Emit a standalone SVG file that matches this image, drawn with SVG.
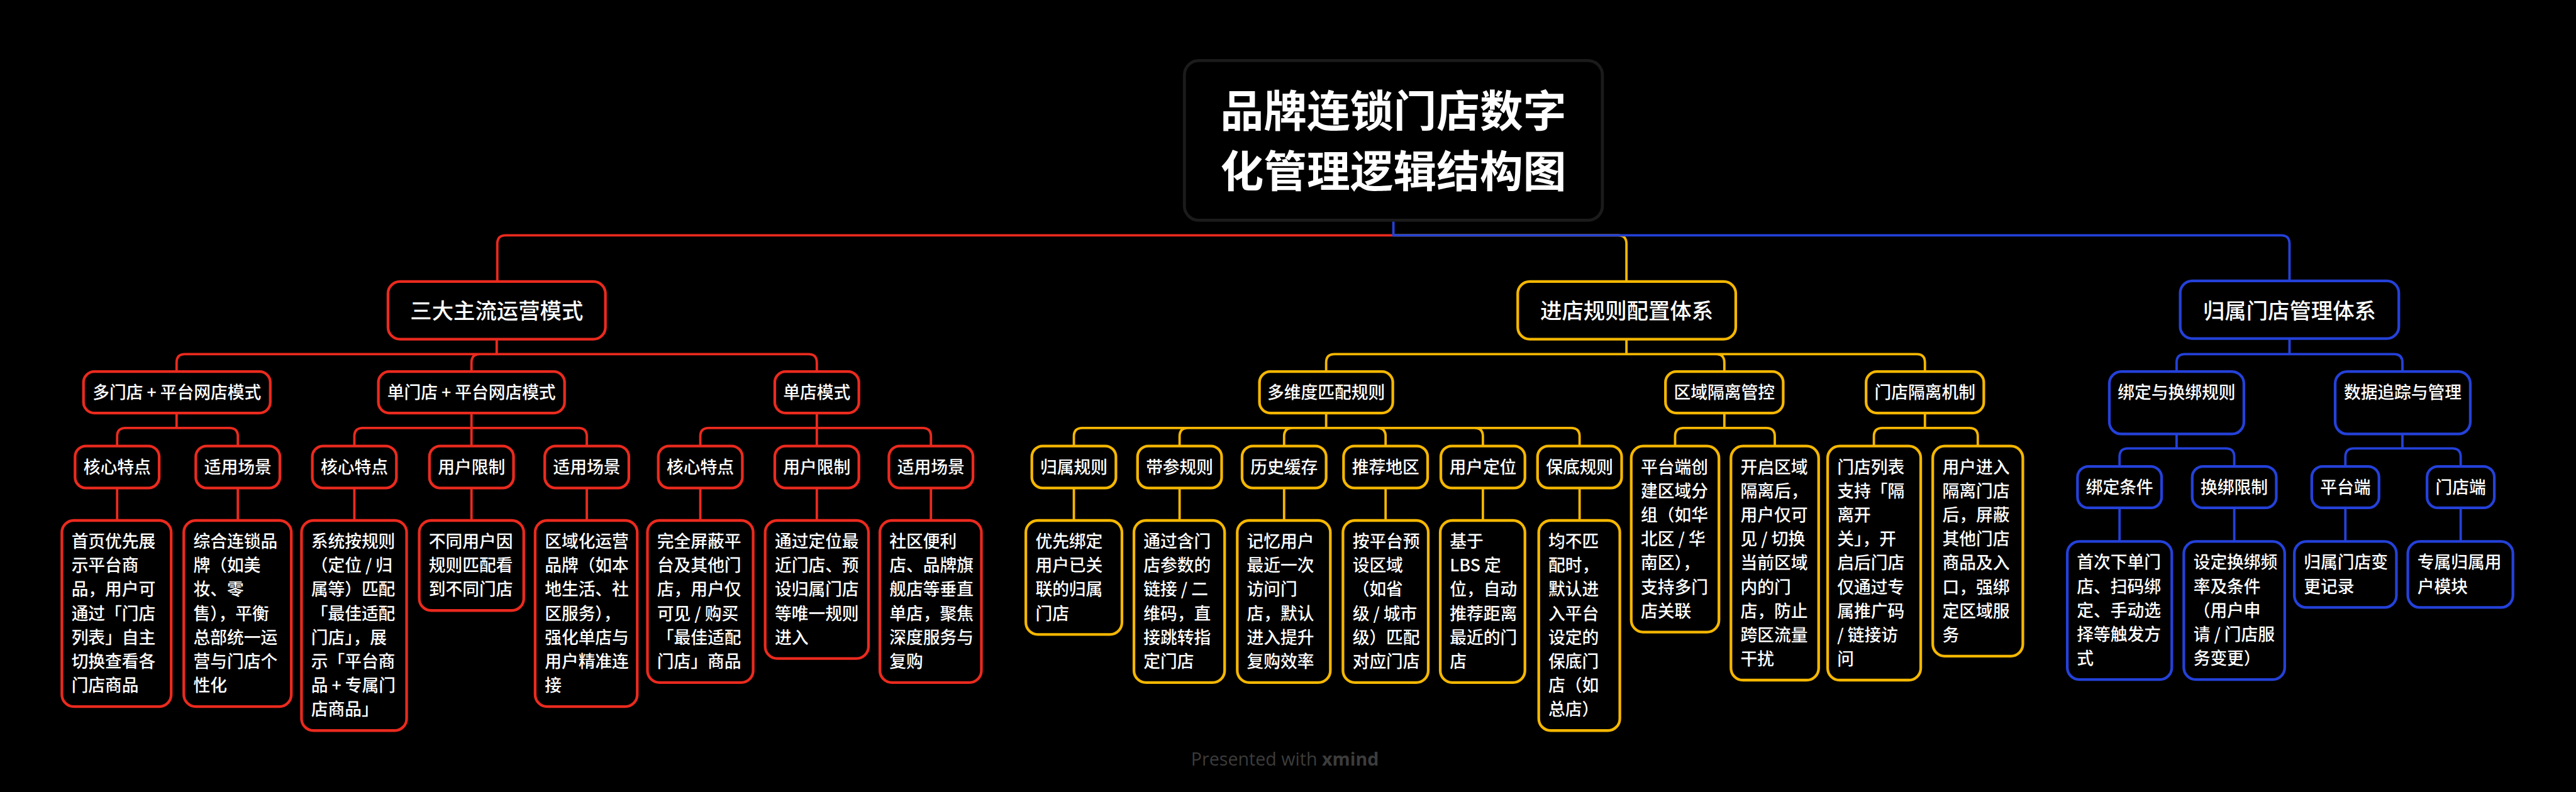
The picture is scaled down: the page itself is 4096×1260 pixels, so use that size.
<svg xmlns="http://www.w3.org/2000/svg" width="4096" height="1260" viewBox="0 0 4096 1260">
<style>
text{font-family:"Noto Sans CJK SC","Noto Sans",sans-serif;fill:#fff;font-weight:500}
.nd{fill:#000;stroke-width:4.5}
.R{stroke:#EB2A1E}.Y{stroke:#F5B700}.B{stroke:#2441D9}
.cn path{fill:none;stroke-width:4}
.t1{font-size:72px;font-weight:700;text-anchor:middle}
.t2{font-size:36px;text-anchor:middle}
.t3{font-size:28px;text-anchor:middle}
.lf{font-size:28px}
.ft{font-family:"Open Sans","Noto Sans",sans-serif;font-size:30px;fill:#3c3c3c;font-weight:400}
</style>
<rect width="4096" height="1260" fill="#000"/>
<g transform="scale(0.955)">
<g id="connectors" class="cn">
<g class="R">
<path d="M2320,392 H842 Q828,392 828,406 V469"/>
<path d="M827,565 V590 M827,590 H308 Q294,590 294,604 V619 M827,590 H799 Q785,590 785,604 V619 M827,590 H1346 Q1360,590 1360,604 V619"/>
<path d="M294,688 V713 H209 Q195,713 195,727 V743 M294,713 H382 Q396,713 396,727 V743"/>
<path d="M785,688 V743 M785,713 H604 Q590,713 590,727 V743 M785,713 H963 Q977,713 977,727 V743"/>
<path d="M1360,688 V743 M1360,713 H1180 Q1166,713 1166,727 V743 M1360,713 H1536 Q1550,713 1550,727 V743"/>
<path d="M195,813 V867 M396,813 V867 M590,813 V867 M785,813 V867 M977,813 V867 M1166,813 V867 M1360,813 V867 M1550,813 V867"/>
</g>
<g class="Y">
<path d="M2320,392 H2694 Q2708,392 2708,406 V469"/>
<path d="M2708,565 V590 M2708,590 H2222 Q2208,590 2208,604 V619 M2708,590 H2857 Q2871,590 2871,604 V619 M2708,590 H3191 Q3205,590 3205,604 V619"/>
<path d="M2208,688 V713 M2208,713 H1802 Q1788,713 1788,727 V743 M2208,713 H1978 Q1964,713 1964,727 V743 M2208,713 H2152 Q2138,713 2138,727 V743 M2208,713 H2293 Q2307,713 2307,727 V743 M2208,713 H2455 Q2469,713 2469,727 V743 M2208,713 H2616 Q2630,713 2630,727 V743"/>
<path d="M1788,813 V867 M1964,813 V867 M2138,813 V867 M2307,813 V867 M2469,813 V867 M2630,813 V867"/>
<path d="M2871,688 V713 M2871,713 H2803 Q2789,713 2789,727 V743 M2871,713 H2941 Q2955,713 2955,727 V743"/>
<path d="M3205,688 V713 M3205,713 H3134 Q3120,713 3120,727 V743 M3205,713 H3279 Q3293,713 3293,727 V743"/>
</g>
<g class="B">
<path d="M2320,367 V392 H3798 Q3812,392 3812,406 V468"/>
<path d="M3812,564 V590 M3812,590 H3638 Q3624,590 3624,604 V619 M3812,590 H3986 Q4000,590 4000,604 V619"/>
<path d="M3624,723 V747 M3624,747 H3543 Q3529,747 3529,761 V777 M3624,747 H3706 Q3720,747 3720,761 V777"/>
<path d="M4000,723 V747 M4000,747 H3919 Q3905,747 3905,761 V777 M4000,747 H4083 Q4097,747 4097,761 V777"/>
<path d="M3529,846 V902 M3720,846 V902 M3905,846 V902 M4097,846 V902"/>
</g>
</g>

<g id="title">
<rect x="1972" y="101" width="696" height="266" rx="24" fill="#000" stroke="#1b1b1b" stroke-width="5"/>
<text class="t1" x="2320" y="212">品牌连锁门店数字</text>
<text class="t1" x="2320" y="312">化管理逻辑结构图</text>
</g>

<!-- Red branch -->
<g id="n-modes"><rect class="nd R" x="646" y="469" width="362" height="96" rx="20"/><text class="t2" x="827" y="531">三大主流运营模式</text></g>
<g id="n-multi"><rect class="nd R" x="139" y="619" width="311" height="69" rx="18"/><text class="t3" x="294.5" y="664">多门店 + 平台网店模式</text></g>
<g id="n-single-plat"><rect class="nd R" x="630" y="619" width="310" height="69" rx="18"/><text class="t3" x="785" y="664">单门店 + 平台网店模式</text></g>
<g id="n-single"><rect class="nd R" x="1290" y="619" width="140" height="69" rx="18"/><text class="t3" x="1360" y="664">单店模式</text></g>

<g id="r-a1"><rect class="nd R" x="125" y="743" width="140" height="70" rx="18"/><text class="t3" x="195" y="788">核心特点</text></g>
<g id="r-a2"><rect class="nd R" x="326" y="743" width="140" height="70" rx="18"/><text class="t3" x="396" y="788">适用场景</text></g>
<g id="r-b1"><rect class="nd R" x="520" y="743" width="140" height="70" rx="18"/><text class="t3" x="590" y="788">核心特点</text></g>
<g id="r-b2"><rect class="nd R" x="715" y="743" width="140" height="70" rx="18"/><text class="t3" x="785" y="788">用户限制</text></g>
<g id="r-b3"><rect class="nd R" x="907" y="743" width="140" height="70" rx="18"/><text class="t3" x="977" y="788">适用场景</text></g>
<g id="r-c1"><rect class="nd R" x="1096" y="743" width="140" height="70" rx="18"/><text class="t3" x="1166" y="788">核心特点</text></g>
<g id="r-c2"><rect class="nd R" x="1290" y="743" width="140" height="70" rx="18"/><text class="t3" x="1360" y="788">用户限制</text></g>
<g id="r-c3"><rect class="nd R" x="1480" y="743" width="140" height="70" rx="18"/><text class="t3" x="1550" y="788">适用场景</text></g>

<g id="r-l1"><rect class="nd R" x="103" y="867" width="182" height="310" rx="20"/><text class="lf" y="912"><tspan x="119">首页优先展</tspan><tspan x="119" dy="40">示平台商</tspan><tspan x="119" dy="40">品，用户可</tspan><tspan x="119" dy="40">通过「门店</tspan><tspan x="119" dy="40">列表」自主</tspan><tspan x="119" dy="40">切换查看各</tspan><tspan x="119" dy="40">门店商品</tspan></text></g>
<g id="r-l2"><rect class="nd R" x="306" y="867" width="179" height="310" rx="20"/><text class="lf" y="912"><tspan x="322">综合连锁品</tspan><tspan x="322" dy="40">牌（如美</tspan><tspan x="322" dy="40">妆、零</tspan><tspan x="322" dy="40">售），平衡</tspan><tspan x="322" dy="40">总部统一运</tspan><tspan x="322" dy="40">营与门店个</tspan><tspan x="322" dy="40">性化</tspan></text></g>
<g id="r-l3"><rect class="nd R" x="502" y="867" width="175" height="350" rx="20"/><text class="lf" y="912"><tspan x="518">系统按规则</tspan><tspan x="518" dy="40">（定位 / 归</tspan><tspan x="518" dy="40">属等）匹配</tspan><tspan x="518" dy="40">「最佳适配</tspan><tspan x="518" dy="40">门店」，展</tspan><tspan x="518" dy="40">示「平台商</tspan><tspan x="518" dy="40">品 + 专属门</tspan><tspan x="518" dy="40">店商品」</tspan></text></g>
<g id="r-l4"><rect class="nd R" x="698" y="867" width="174" height="150" rx="20"/><text class="lf" y="912"><tspan x="714">不同用户因</tspan><tspan x="714" dy="40">规则匹配看</tspan><tspan x="714" dy="40">到不同门店</tspan></text></g>
<g id="r-l5"><rect class="nd R" x="891" y="867" width="170" height="310" rx="20"/><text class="lf" y="912"><tspan x="907">区域化运营</tspan><tspan x="907" dy="40">品牌（如本</tspan><tspan x="907" dy="40">地生活、社</tspan><tspan x="907" dy="40">区服务），</tspan><tspan x="907" dy="40">强化单店与</tspan><tspan x="907" dy="40">用户精准连</tspan><tspan x="907" dy="40">接</tspan></text></g>
<g id="r-l6"><rect class="nd R" x="1078" y="867" width="176" height="270" rx="20"/><text class="lf" y="912"><tspan x="1094">完全屏蔽平</tspan><tspan x="1094" dy="40">台及其他门</tspan><tspan x="1094" dy="40">店，用户仅</tspan><tspan x="1094" dy="40">可见 / 购买</tspan><tspan x="1094" dy="40">「最佳适配</tspan><tspan x="1094" dy="40">门店」商品</tspan></text></g>
<g id="r-l7"><rect class="nd R" x="1274" y="867" width="172" height="230" rx="20"/><text class="lf" y="912"><tspan x="1290">通过定位最</tspan><tspan x="1290" dy="40">近门店、预</tspan><tspan x="1290" dy="40">设归属门店</tspan><tspan x="1290" dy="40">等唯一规则</tspan><tspan x="1290" dy="40">进入</tspan></text></g>
<g id="r-l8"><rect class="nd R" x="1465" y="867" width="169" height="270" rx="20"/><text class="lf" y="912"><tspan x="1481">社区便利</tspan><tspan x="1481" dy="40">店、品牌旗</tspan><tspan x="1481" dy="40">舰店等垂直</tspan><tspan x="1481" dy="40">单店，聚焦</tspan><tspan x="1481" dy="40">深度服务与</tspan><tspan x="1481" dy="40">复购</tspan></text></g>

<!-- Yellow branch -->
<g id="n-rules"><rect class="nd Y" x="2527" y="469" width="363" height="96" rx="20"/><text class="t2" x="2708.5" y="531">进店规则配置体系</text></g>
<g id="n-match"><rect class="nd Y" x="2097" y="619" width="222" height="69" rx="18"/><text class="t3" x="2208" y="664">多维度匹配规则</text></g>
<g id="n-region"><rect class="nd Y" x="2773" y="619" width="196" height="69" rx="18"/><text class="t3" x="2871" y="664">区域隔离管控</text></g>
<g id="n-iso"><rect class="nd Y" x="3107" y="619" width="196" height="69" rx="18"/><text class="t3" x="3205" y="664">门店隔离机制</text></g>

<g id="y-a1"><rect class="nd Y" x="1718" y="743" width="140" height="70" rx="18"/><text class="t3" x="1788" y="788">归属规则</text></g>
<g id="y-a2"><rect class="nd Y" x="1894" y="743" width="140" height="70" rx="18"/><text class="t3" x="1964" y="788">带参规则</text></g>
<g id="y-a3"><rect class="nd Y" x="2068" y="743" width="140" height="70" rx="18"/><text class="t3" x="2138" y="788">历史缓存</text></g>
<g id="y-a4"><rect class="nd Y" x="2237" y="743" width="140" height="70" rx="18"/><text class="t3" x="2307" y="788">推荐地区</text></g>
<g id="y-a5"><rect class="nd Y" x="2399" y="743" width="140" height="70" rx="18"/><text class="t3" x="2469" y="788">用户定位</text></g>
<g id="y-a6"><rect class="nd Y" x="2560" y="743" width="140" height="70" rx="18"/><text class="t3" x="2630" y="788">保底规则</text></g>

<g id="y-l1"><rect class="nd Y" x="1708" y="867" width="160" height="190" rx="20"/><text class="lf" y="912"><tspan x="1724">优先绑定</tspan><tspan x="1724" dy="40">用户已关</tspan><tspan x="1724" dy="40">联的归属</tspan><tspan x="1724" dy="40">门店</tspan></text></g>
<g id="y-l2"><rect class="nd Y" x="1888" y="867" width="151" height="270" rx="20"/><text class="lf" y="912"><tspan x="1904">通过含门</tspan><tspan x="1904" dy="40">店参数的</tspan><tspan x="1904" dy="40">链接 / 二</tspan><tspan x="1904" dy="40">维码，直</tspan><tspan x="1904" dy="40">接跳转指</tspan><tspan x="1904" dy="40">定门店</tspan></text></g>
<g id="y-l3"><rect class="nd Y" x="2060" y="867" width="155" height="270" rx="20"/><text class="lf" y="912"><tspan x="2076">记忆用户</tspan><tspan x="2076" dy="40">最近一次</tspan><tspan x="2076" dy="40">访问门</tspan><tspan x="2076" dy="40">店，默认</tspan><tspan x="2076" dy="40">进入提升</tspan><tspan x="2076" dy="40">复购效率</tspan></text></g>
<g id="y-l4"><rect class="nd Y" x="2236" y="867" width="142" height="270" rx="20"/><text class="lf" y="912"><tspan x="2252">按平台预</tspan><tspan x="2252" dy="40">设区域</tspan><tspan x="2252" dy="40">（如省</tspan><tspan x="2252" dy="40">级 / 城市</tspan><tspan x="2252" dy="40">级）匹配</tspan><tspan x="2252" dy="40">对应门店</tspan></text></g>
<g id="y-l5"><rect class="nd Y" x="2398" y="867" width="141" height="270" rx="20"/><text class="lf" y="912"><tspan x="2414">基于</tspan><tspan x="2414" dy="40">LBS 定</tspan><tspan x="2414" dy="40">位，自动</tspan><tspan x="2414" dy="40">推荐距离</tspan><tspan x="2414" dy="40">最近的门</tspan><tspan x="2414" dy="40">店</tspan></text></g>
<g id="y-l6"><rect class="nd Y" x="2562" y="867" width="135" height="350" rx="20"/><text class="lf" y="912"><tspan x="2578">均不匹</tspan><tspan x="2578" dy="40">配时，</tspan><tspan x="2578" dy="40">默认进</tspan><tspan x="2578" dy="40">入平台</tspan><tspan x="2578" dy="40">设定的</tspan><tspan x="2578" dy="40">保底门</tspan><tspan x="2578" dy="40">店（如</tspan><tspan x="2578" dy="40">总店）</tspan></text></g>
<g id="y-l7"><rect class="nd Y" x="2716" y="743" width="146" height="310" rx="20"/><text class="lf" y="788"><tspan x="2732">平台端创</tspan><tspan x="2732" dy="40">建区域分</tspan><tspan x="2732" dy="40">组（如华</tspan><tspan x="2732" dy="40">北区 / 华</tspan><tspan x="2732" dy="40">南区），</tspan><tspan x="2732" dy="40">支持多门</tspan><tspan x="2732" dy="40">店关联</tspan></text></g>
<g id="y-l8"><rect class="nd Y" x="2882" y="743" width="146" height="390" rx="20"/><text class="lf" y="788"><tspan x="2898">开启区域</tspan><tspan x="2898" dy="40">隔离后，</tspan><tspan x="2898" dy="40">用户仅可</tspan><tspan x="2898" dy="40">见 / 切换</tspan><tspan x="2898" dy="40">当前区域</tspan><tspan x="2898" dy="40">内的门</tspan><tspan x="2898" dy="40">店，防止</tspan><tspan x="2898" dy="40">跨区流量</tspan><tspan x="2898" dy="40">干扰</tspan></text></g>
<g id="y-l9"><rect class="nd Y" x="3043" y="743" width="155" height="390" rx="20"/><text class="lf" y="788"><tspan x="3059">门店列表</tspan><tspan x="3059" dy="40">支持「隔</tspan><tspan x="3059" dy="40">离开</tspan><tspan x="3059" dy="40">关」，开</tspan><tspan x="3059" dy="40">启后门店</tspan><tspan x="3059" dy="40">仅通过专</tspan><tspan x="3059" dy="40">属推广码</tspan><tspan x="3059" dy="40">/ 链接访</tspan><tspan x="3059" dy="40">问</tspan></text></g>
<g id="y-l10"><rect class="nd Y" x="3218" y="743" width="150" height="350" rx="20"/><text class="lf" y="788"><tspan x="3234">用户进入</tspan><tspan x="3234" dy="40">隔离门店</tspan><tspan x="3234" dy="40">后，屏蔽</tspan><tspan x="3234" dy="40">其他门店</tspan><tspan x="3234" dy="40">商品及入</tspan><tspan x="3234" dy="40">口，强绑</tspan><tspan x="3234" dy="40">定区域服</tspan><tspan x="3234" dy="40">务</tspan></text></g>

<!-- Blue branch -->
<g id="n-own"><rect class="nd B" x="3630" y="468" width="364" height="96" rx="20"/><text class="t2" x="3812" y="531">归属门店管理体系</text></g>
<g id="n-bind"><rect class="nd B" x="3512" y="619" width="224" height="104" rx="20"/><text class="t3" x="3624" y="664">绑定与换绑规则</text></g>
<g id="n-data"><rect class="nd B" x="3888" y="619" width="225" height="104" rx="20"/><text class="t3" x="4000.5" y="664">数据追踪与管理</text></g>

<g id="b-a1"><rect class="nd B" x="3459" y="777" width="140" height="69" rx="18"/><text class="t3" x="3529" y="822">绑定条件</text></g>
<g id="b-a2"><rect class="nd B" x="3650" y="777" width="140" height="69" rx="18"/><text class="t3" x="3720" y="822">换绑限制</text></g>
<g id="b-a3"><rect class="nd B" x="3849" y="777" width="112" height="69" rx="18"/><text class="t3" x="3905" y="822">平台端</text></g>
<g id="b-a4"><rect class="nd B" x="4041" y="777" width="112" height="69" rx="18"/><text class="t3" x="4097" y="822">门店端</text></g>

<g id="b-l1"><rect class="nd B" x="3442" y="902" width="174" height="230" rx="20"/><text class="lf" y="947"><tspan x="3458">首次下单门</tspan><tspan x="3458" dy="40">店、扫码绑</tspan><tspan x="3458" dy="40">定、手动选</tspan><tspan x="3458" dy="40">择等触发方</tspan><tspan x="3458" dy="40">式</tspan></text></g>
<g id="b-l2"><rect class="nd B" x="3636" y="902" width="168" height="230" rx="20"/><text class="lf" y="947"><tspan x="3652">设定换绑频</tspan><tspan x="3652" dy="40">率及条件</tspan><tspan x="3652" dy="40">（用户申</tspan><tspan x="3652" dy="40">请 / 门店服</tspan><tspan x="3652" dy="40">务变更）</tspan></text></g>
<g id="b-l3"><rect class="nd B" x="3820" y="902" width="170" height="110" rx="20"/><text class="lf" y="947"><tspan x="3836">归属门店变</tspan><tspan x="3836" dy="40">更记录</tspan></text></g>
<g id="b-l4"><rect class="nd B" x="4009" y="902" width="175" height="110" rx="20"/><text class="lf" y="947"><tspan x="4025">专属归属用</tspan><tspan x="4025" dy="40">户模块</tspan></text></g>

<text class="ft" x="1983" y="1275">Presented with <tspan font-weight="700">xmind</tspan></text>
</g>
</svg>
